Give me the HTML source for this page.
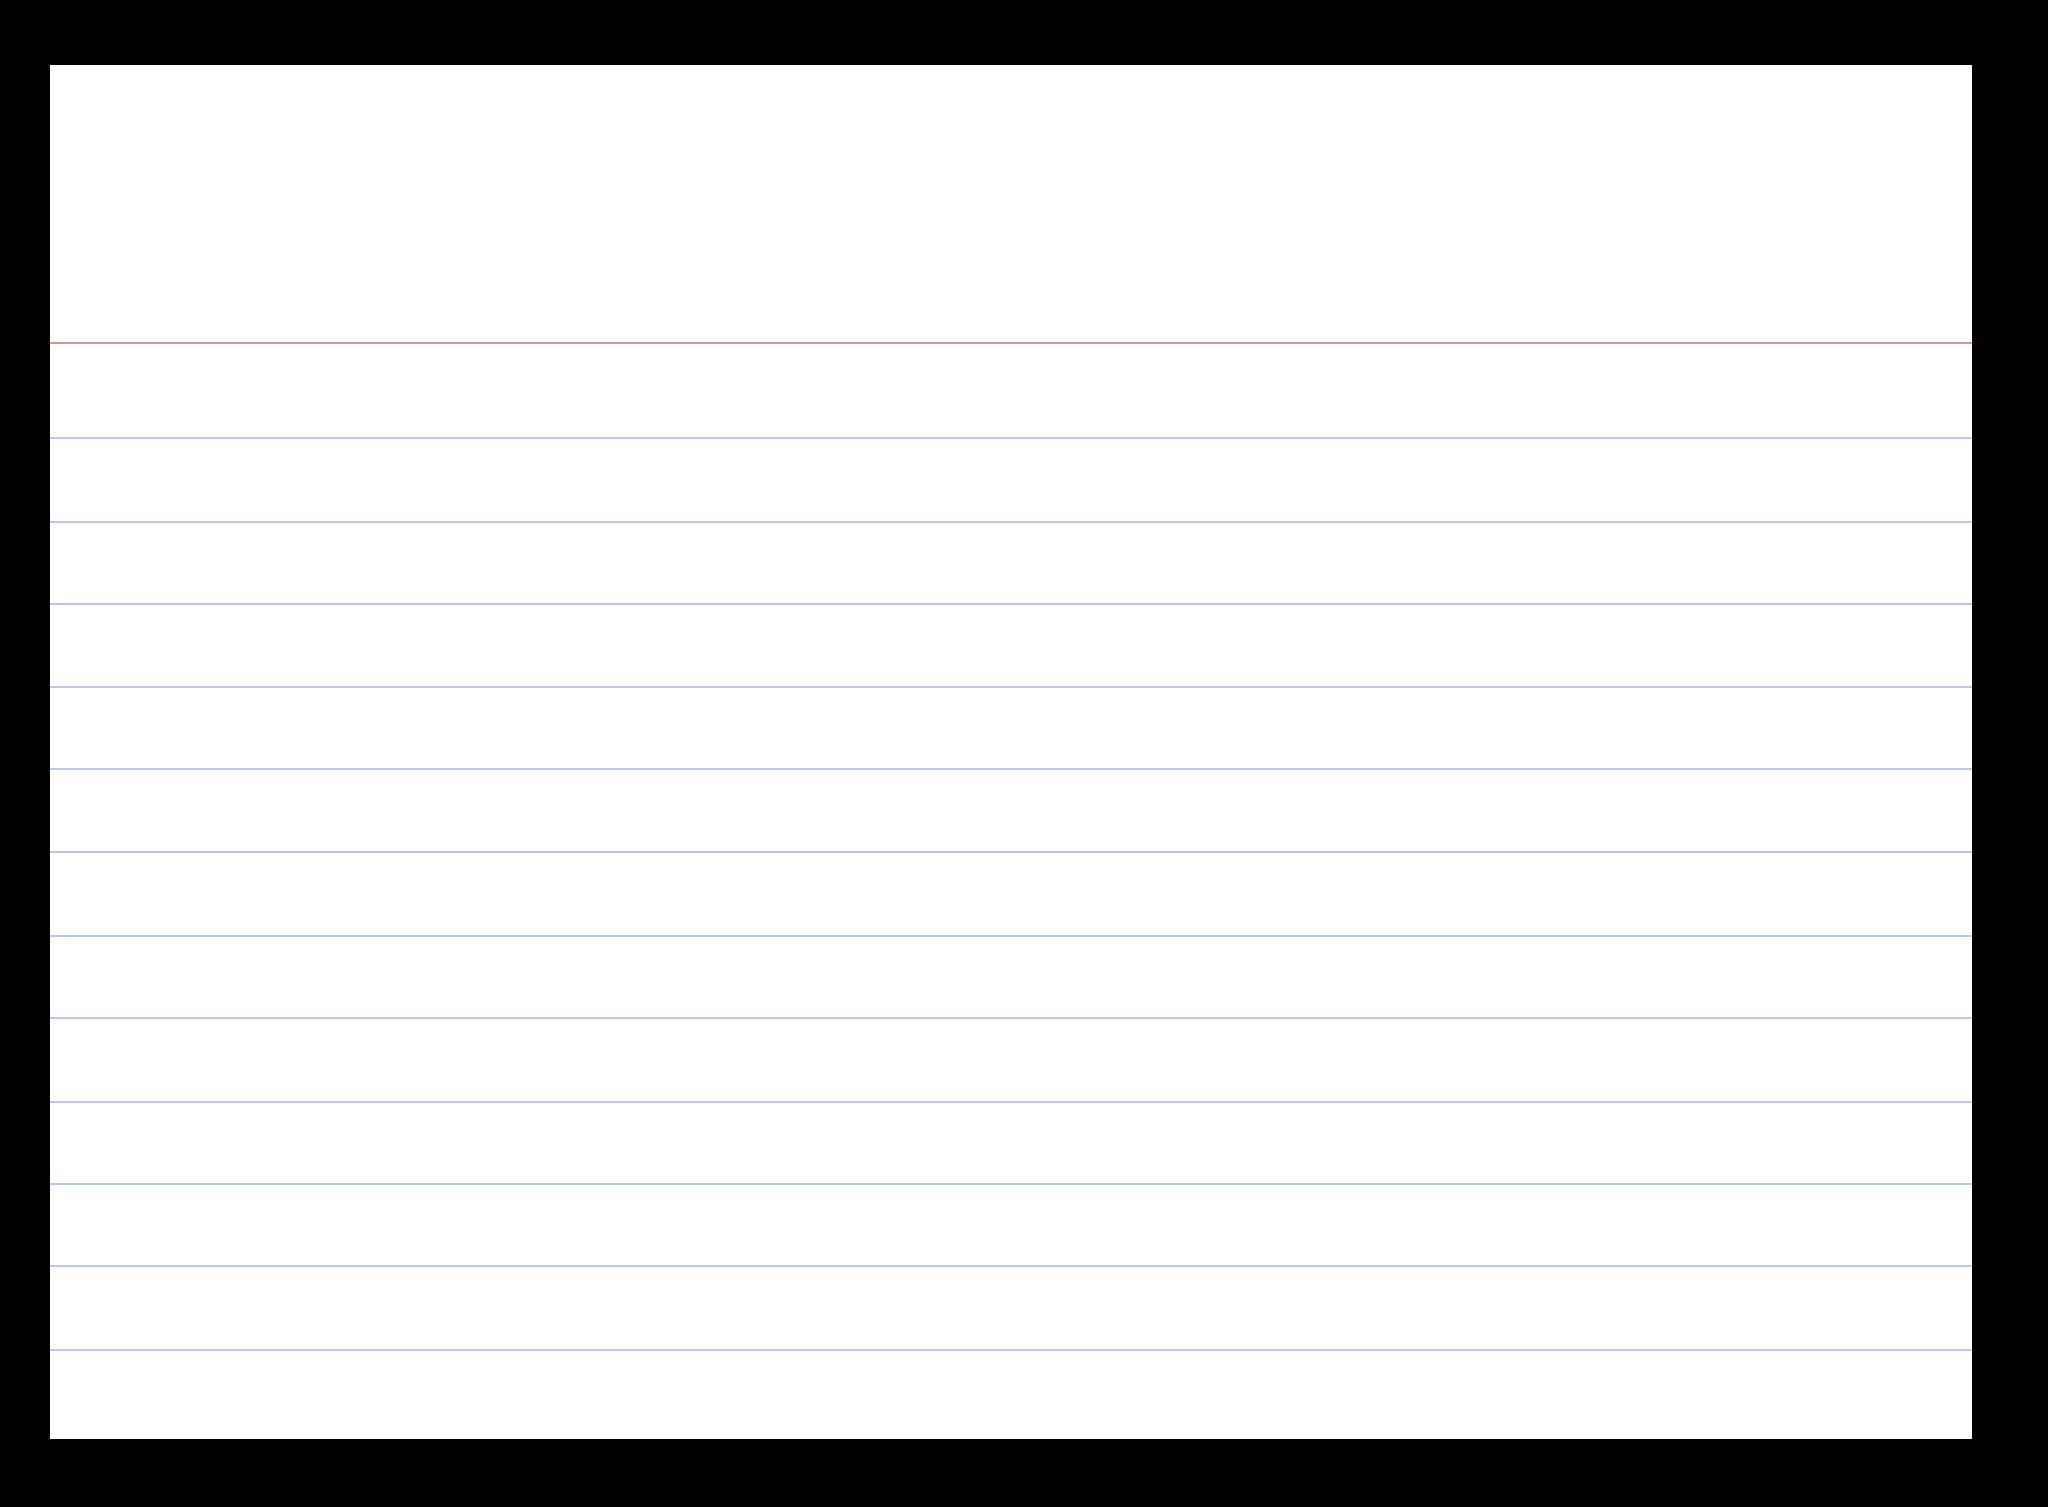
<!DOCTYPE html>
<html><head><meta charset="utf-8"><style>
html,body{margin:0;padding:0;background:#000;}
body{width:2048px;height:1507px;position:relative;overflow:hidden;}
.card{position:absolute;left:50px;top:65px;width:1922px;height:1374px;background:#fff;}
.l{position:absolute;left:0;width:100%;height:2px;background:#b8c8ec;}
.r{background:#ee8a8a;}
</style></head><body>
<div class="card">
<div class="l r" style="top:277px"></div>
<div class="l" style="top:372px"></div>
<div class="l" style="top:456px"></div>
<div class="l" style="top:538px"></div>
<div class="l" style="top:621px"></div>
<div class="l" style="top:703px"></div>
<div class="l" style="top:786px"></div>
<div class="l" style="top:870px"></div>
<div class="l" style="top:952px"></div>
<div class="l" style="top:1036px"></div>
<div class="l" style="top:1118px"></div>
<div class="l" style="top:1200px"></div>
<div class="l" style="top:1284px"></div>
</div>
</body></html>
